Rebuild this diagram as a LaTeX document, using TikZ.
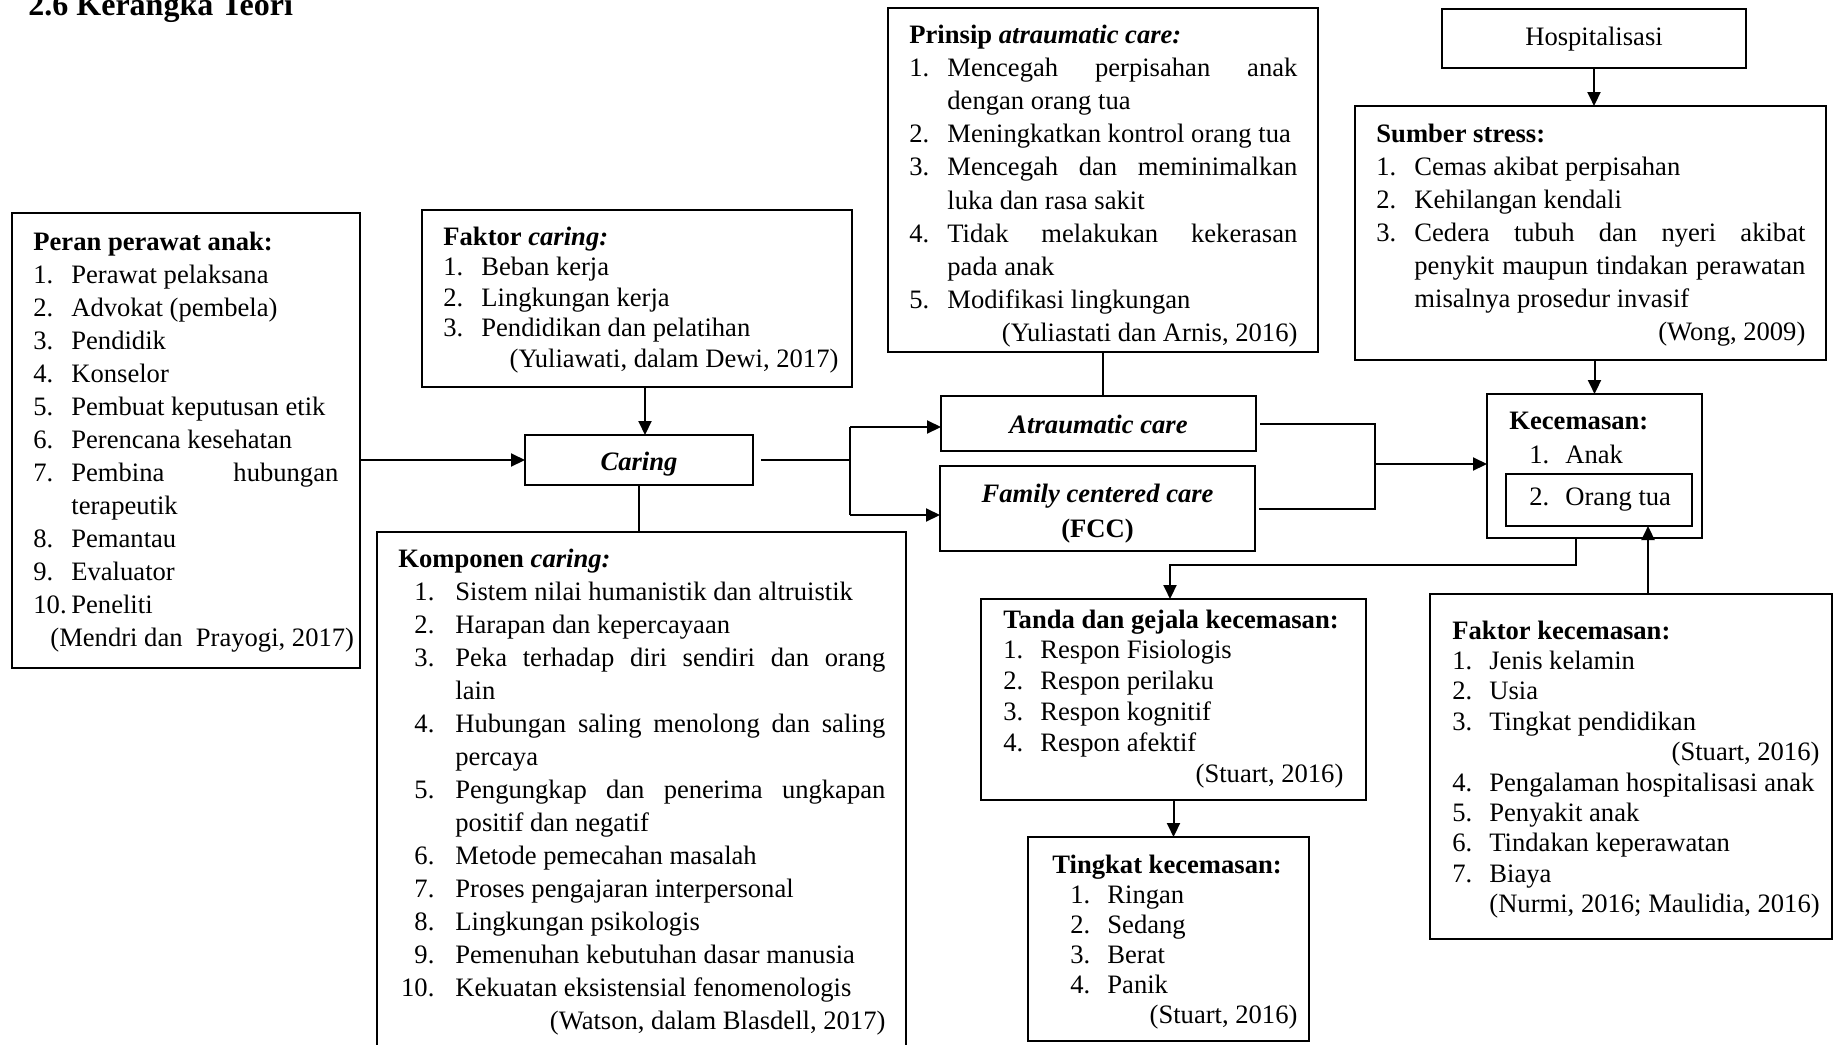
\documentclass[tikz,border=0pt]{standalone}
\usepackage{fontspec}
\setmainfont{Liberation Serif}
\usetikzlibrary{arrows.meta,fit,calc}
\newlength{\lind}\newlength{\loff}\newlength{\tw}
\newcommand{\setup}[3]{\spaceskip=0pt\xspaceskip=0pt\relax\setlength\tw{#1}\setlength\lind{#2}\setlength\loff{#3}}
\newcommand{\itm}[2]{\par\noindent\hspace*{\loff}\makebox[\lind][l]{#1}\mbox{#2}}
\newcommand{\itmr}[2]{\par\noindent\hspace*{\loff}\makebox[\lind][r]{#1\hspace{10.5pt}}\mbox{#2}}
\newcommand{\jst}[1]{\makebox[\dimexpr\tw-\lind-\loff\relax][s]{\spaceskip=0pt\relax #1}}
\newcommand{\cnt}[1]{\par\noindent\hspace*{\dimexpr\lind+\loff\relax}\mbox{#1}}
\newcommand{\srcl}[2]{\par\noindent\hspace*{#1}\mbox{#2}}
\newcommand{\srcr}[1]{\par\noindent\makebox[\tw][r]{#1}}
\newcommand{\hd}[1]{\noindent\mbox{\bfseries #1}}
\tikzset{
  box/.style={draw, line width=1.1pt, inner sep=0pt, outer sep=0pt},
  arr/.style={line width=1pt, -{Triangle[length=7pt,width=6.5pt]}},
  ln/.style={line width=1pt},
  txt/.style={anchor=base west, inner sep=0pt, text width=300pt, font=\fontsize{13.3pt}{16.5pt}\selectfont},
  lbl/.style={anchor=base west, inner sep=0pt, font=\fontsize{13.3pt}{16.5pt}\selectfont},
  ctr/.style={inner sep=0pt, align=flush center, font=\fontsize{13.3pt}{17.5pt}\selectfont\bfseries\itshape},
}
\begin{document}
\begin{tikzpicture}[x=0.5pt,y=-0.5pt]
\useasboundingbox (0,0) rectangle (1834,1044);
\node[anchor=base west, inner sep=0pt, font=\fontsize{16pt}{19pt}\selectfont\bfseries] (title) at (28,15) {2.6 Kerangka Teori};
% boxes
\node[box, fit={(12,213)(360,668)}] (peran) {};
\node[box, fit={(422,210)(852,387)}] (faktorc) {};
\node[box, fit={(525,435)(753,485)}] (caring) {};
\node[box, fit={(377,532)(906,1070)}] (komp) {};
\node[box, fit={(888,8)(1318,352)}] (prinsip) {};
\node[box, fit={(941,396)(1256,451)}] (atr) {};
\node[box, fit={(940,466)(1255,551)}] (fcc) {};
\node[box, fit={(1442,9)(1746,68)}] (hosp) {};
\node[box, fit={(1355,106)(1826,360)}] (sumber) {};
\node[box, fit={(1487,394)(1702,538)}] (kec) {};
\node[box, fit={(1506,474)(1692,526)}] (ortu) {};
\node[box, fit={(981,599)(1366,800)}] (tanda) {};
\node[box, fit={(1028,837)(1309,1041)}] (tingkat) {};
\node[box, fit={(1430,594)(1832,939)}] (fk) {};
% centred labels
\node[ctr] (caringT) at ([yshift=-2pt]caring.center) {Caring};
\node[ctr] (atrT) at ([yshift=-0.5pt]atr.center) {Atraumatic care};
\node[ctr] (fccT) at ([yshift=-2.5pt]fcc.center) {Family centered care\\\textup{(FCC)}};
\node[inner sep=0pt, font=\fontsize{13.3pt}{16pt}\selectfont] (hospT) at ([yshift=-0.5pt]hosp.center) {Hospitalisasi};
% Peran
\node[txt] (peranT) at (33,250) {\setup{152.5pt}{19pt}{0pt}%
\hd{Peran perawat anak:}
\itm{1.}{Perawat pelaksana}
\itm{2.}{Advokat (pembela)}
\itm{3.}{Pendidik}
\itm{4.}{Konselor}
\itm{5.}{Pembuat keputusan etik}
\itm{6.}{Perencana kesehatan}
\itm{7.}{\jst{Pembina hubungan}}
\cnt{terapeutik}
\itm{8.}{Pemantau}
\itm{9.}{Evaluator}
\itm{10.}{Peneliti}
\srcl{8.5pt}{(Mendri dan\ \ Prayogi, 2017)}};
% Faktor caring
\node[txt, font=\fontsize{13.3pt}{15.25pt}\selectfont] (faktorcT) at (443,245) {\setup{197.5pt}{19pt}{0pt}%
\hd{Faktor \textit{caring:}}
\itm{1.}{Beban kerja}
\itm{2.}{Lingkungan kerja}
\itm{3.}{Pendidikan dan pelatihan}
\srcr{(Yuliawati, dalam Dewi, 2017)}};
% Komponen
\node[txt] (kompT) at (398,567) {\setup{243.5pt}{28.5pt}{0pt}%
\hd{Komponen \textit{caring:}}
\itmr{1.}{Sistem nilai humanistik dan altruistik}
\itmr{2.}{Harapan dan kepercayaan}
\itmr{3.}{\jst{Peka terhadap diri sendiri dan orang}}
\cnt{lain}
\itmr{4.}{\jst{Hubungan saling menolong dan saling}}
\cnt{percaya}
\itmr{5.}{\jst{Pengungkap dan penerima ungkapan}}
\cnt{positif dan negatif}
\itmr{6.}{Metode pemecahan masalah}
\itmr{7.}{Proses pengajaran interpersonal}
\itmr{8.}{Lingkungan psikologis}
\itmr{9.}{Pemenuhan kebutuhan dasar manusia}
\itmr{10.}{Kekuatan eksistensial fenomenologis}
\srcr{(Watson, dalam Blasdell, 2017)}};
% Prinsip
\node[txt, font=\fontsize{13.3pt}{16.6pt}\selectfont] (prinsipT) at (909,43) {\setup{194pt}{19pt}{0pt}%
\hd{Prinsip \textit{atraumatic care:}}
\itm{1.}{\jst{Mencegah perpisahan anak}}
\cnt{dengan orang tua}
\itm{2.}{Meningkatkan kontrol orang tua}
\itm{3.}{\jst{Mencegah dan meminimalkan}}
\cnt{luka dan rasa sakit}
\itm{4.}{\jst{Tidak melakukan kekerasan}}
\cnt{pada anak}
\itm{5.}{Modifikasi lingkungan}
\srcr{(Yuliastati dan Arnis, 2016)}};
% Sumber stress
\node[txt] (sumberT) at (1376,142) {\setup{214.5pt}{19pt}{0pt}%
\hd{Sumber stress:}
\itm{1.}{Cemas akibat perpisahan}
\itm{2.}{Kehilangan kendali}
\itm{3.}{\jst{Cedera tubuh dan nyeri akibat}}
\cnt{\jst{penykit maupun tindakan perawatan}}
\cnt{misalnya prosedur invasif}
\srcr{(Wong, 2009)}};
% Kecemasan
\node[lbl] (kecT) at (1509,429) {\textbf{Kecemasan:}};
\node[lbl] (kec1) at (1529,463) {\makebox[18pt][l]{1.}Anak};
\node[lbl] (kec2) at (1529,505) {\makebox[18pt][l]{2.}Orang tua};
% Tanda
\node[txt, font=\fontsize{13.3pt}{15.4pt}\selectfont] (tandaT) at (1003,628) {\setup{170pt}{18.5pt}{0pt}%
\hd{Tanda dan gejala kecemasan:}
\itm{1.}{Respon Fisiologis}
\itm{2.}{Respon perilaku}
\itm{3.}{Respon kognitif}
\itm{4.}{Respon afektif}
\srcr{(Stuart, 2016)}};
% Tingkat
\node[txt, font=\fontsize{13.3pt}{15pt}\selectfont] (tingkatT) at (1052,873) {\setup{122.5pt}{18.5pt}{9pt}%
\hd{Tingkat kecemasan:}
\itm{1.}{Ringan}
\itm{2.}{Sedang}
\itm{3.}{Berat}
\itm{4.}{Panik}
\srcr{(Stuart, 2016)}};
% Faktor kecemasan
\node[txt, font=\fontsize{13.3pt}{15.2pt}\selectfont] (fkT) at (1452,639) {\setup{183.5pt}{18.5pt}{0pt}%
\hd{Faktor kecemasan:}
\itm{1.}{Jenis kelamin}
\itm{2.}{Usia}
\itm{3.}{Tingkat pendidikan}
\srcr{(Stuart, 2016)}
\itm{4.}{Pengalaman hospitalisasi anak}
\itm{5.}{Penyakit anak}
\itm{6.}{Tindakan keperawatan}
\itm{7.}{Biaya}
\cnt{(Nurmi, 2016; Maulidia, 2016)}};
% connectors
\draw[arr] (peran.east |- caring.west) -- (caring.west);
\draw[arr] ([xshift=4pt]faktorc.south) -- ([xshift=4pt]faktorc.south |- caring.north);
\draw[ln] (caring.south) -- (caring.south |- komp.north);
\coordinate (br1) at (850,427);
\coordinate (br2) at (850,515);
\draw[ln] ([xshift=4pt]caring.east) -- (caring.east -| br1);
\draw[ln] (br1) -- (br2);
\draw[arr] (br1) -- (br1 -| atr.west);
\draw[arr] (br2) -- (br2 -| fcc.west);
\draw[ln] (prinsip.south) -- (prinsip.south |- atr.north);
\coordinate (jm) at (1375,464);
\draw[ln] ([xshift=2pt]atr.east) -| (jm);
\draw[ln] ([xshift=2pt]fcc.east) -| (jm);
\draw[arr] (jm) -- (jm -| kec.west);
\draw[arr] (hosp.south) -- (hosp.south |- sumber.north);
\draw[arr] (sumber.south -| kec.north) -- (kec.north);
\coordinate (k1) at (1576,565);
\coordinate (k2) at (1170,565);
\draw[arr] (k1 |- kec.south) -- (k1) -- (k2) -- (k2 |- tanda.north);
\draw[arr] (tanda.south) -- (tanda.south |- tingkat.north);
\coordinate (f1) at (1648,594);
\draw[arr] (f1 |- fk.north) -- (f1 |- ortu.south);
\end{tikzpicture}
\end{document}
